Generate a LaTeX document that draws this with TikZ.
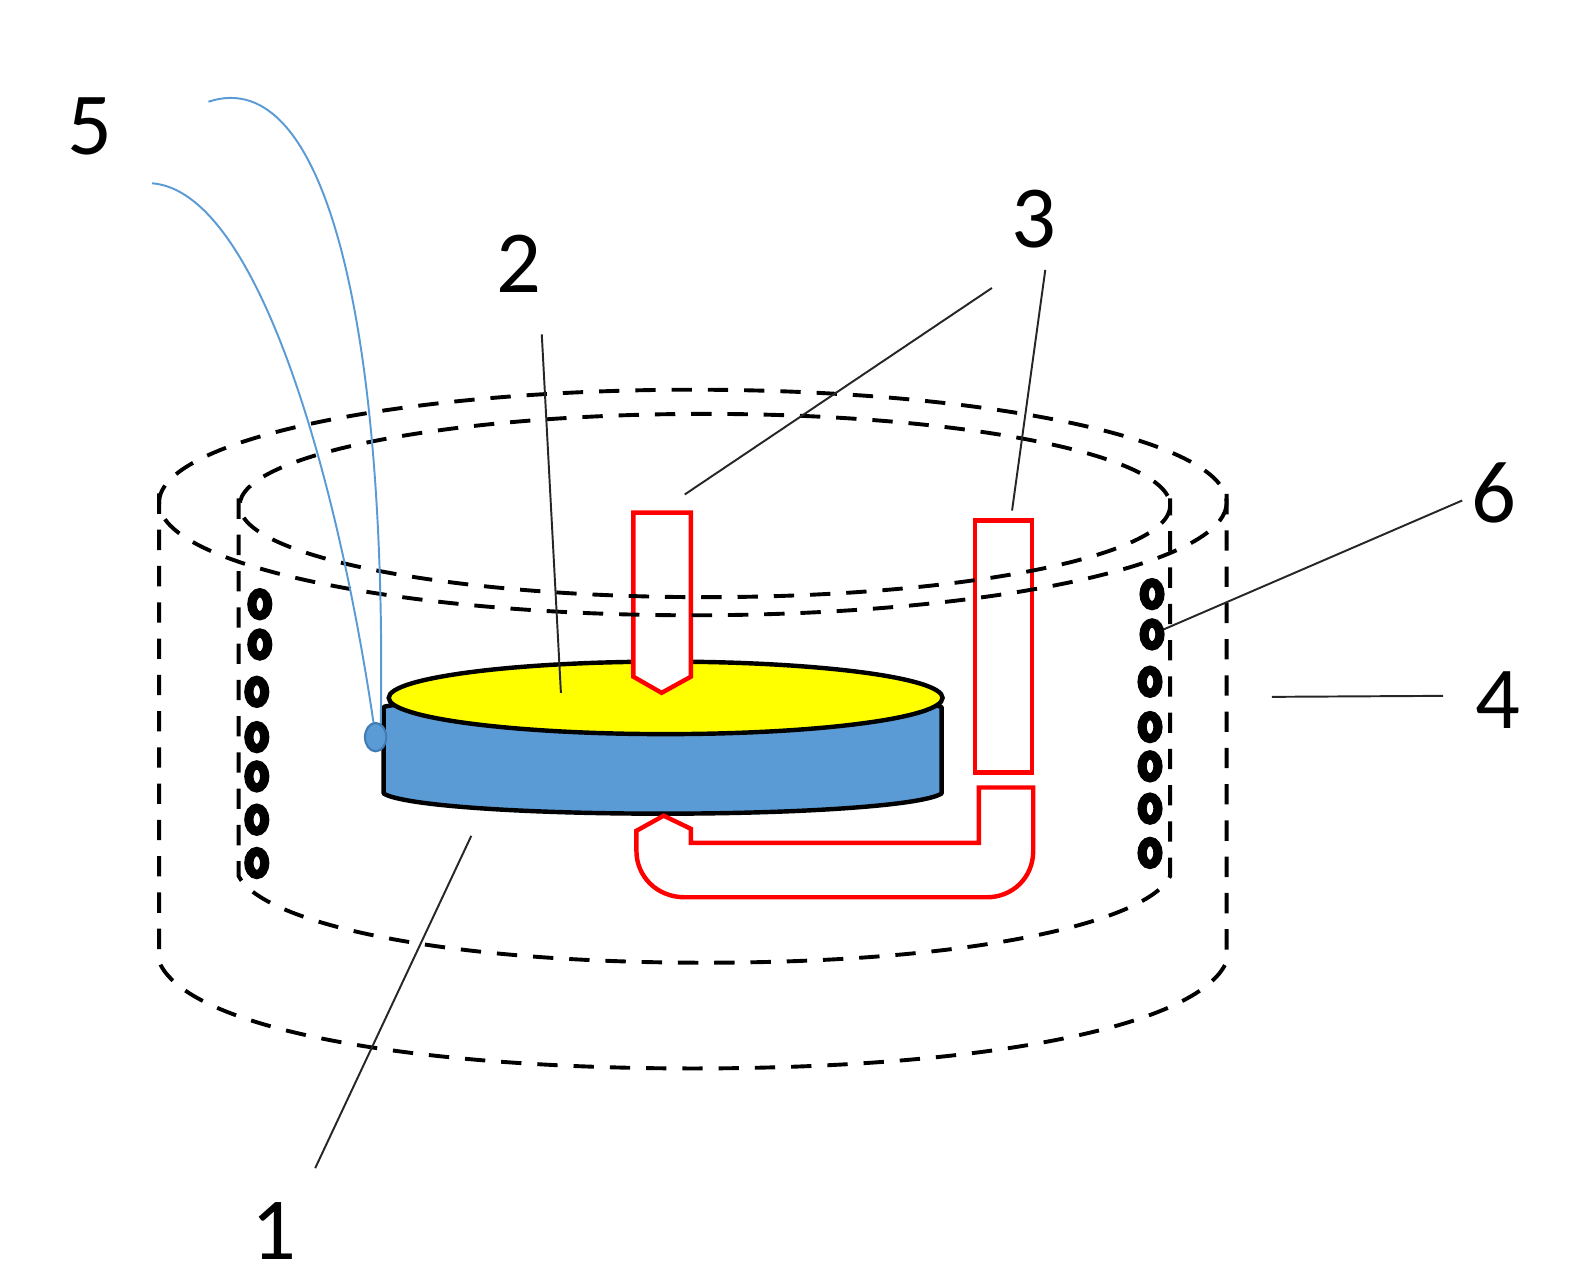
\documentclass[tikz,border=0pt]{standalone}
\usepackage{fontspec}
\setmainfont{Carlito}
\usetikzlibrary{shapes.geometric}
\definecolor{bodyblue}{RGB}{91,155,213}
\definecolor{ballblue}{RGB}{65,125,180}
\definecolor{hot}{RGB}{255,0,0}
\definecolor{discyellow}{RGB}{255,255,0}
\tikzset{
  dashline/.style={black,line width=2.2pt,dash pattern=on 11.5pt off 9pt},
  redpart/.style={draw=hot,line width=2.5pt,line join=miter},
  wire/.style={draw=bodyblue,line width=1.1pt},
  leader/.style={draw=black!85,line width=1.1pt},
  digit/.style={font=\fontsize{50}{52}\selectfont,inner sep=0pt,text=black},
  coil/.style={draw=black,line width=5.2pt,fill=white,ellipse},
}
\begin{document}
\begin{tikzpicture}[x=0.02cm,y=-0.02cm]
\useasboundingbox (0,0) rectangle (1568,1270);
% disc
\path[fill=bodyblue,draw=black,line width=2.5pt,line join=round] (381,702) -- (381,788) .. controls (400,800) and (520,808) .. (658,808) .. controls (796,808) and (916,800) .. (935,788) -- (935,702) .. controls (900,690) and (420,690) .. (381,702) -- cycle;
\draw[fill=discyellow,line width=2.5pt] (661,693) ellipse [x radius=275,y radius=36];
% probes
\draw[redpart,fill=white] (629,509) -- (686,509) -- (686,672) -- (657,688) -- (629,672) -- cycle;
\draw[redpart,fill=white] (968,517) rectangle (1025,767);
\draw[redpart] (659,810) -- (686,823) -- (686,837) -- (972,837) -- (972,782) -- (1026,782) -- (1026,845) .. controls (1026,872) and (1005,891) .. (980,891) -- (680,891) .. controls (652,891) and (632,870) .. (632,845) -- (632,825) -- cycle;
% outer cylinder
\draw[dashline] (688,499) ellipse [x radius=530,y radius=112];
\draw[dashline] (158,490) -- (158,955) .. controls (185,1020) and (400,1061) .. (688,1061) .. controls (976,1061) and (1190,1020) .. (1218,955) -- (1218,490);
% inner cylinder
\draw[dashline] (700,502) ellipse [x radius=462,y radius=91];
\draw[dashline] (237,495) -- (237,870) .. controls (260,915) and (430,956) .. (700,956) .. controls (970,956) and (1140,915) .. (1162,870) -- (1162,495);
% wires
\draw[wire] (207,101) .. controls (325,62) and (385,330) .. (378,725);
\draw[wire] (151,182) .. controls (255,190) and (335,470) .. (372,725);
\node[ellipse,fill=bodyblue,draw=ballblue,line width=1.2pt,minimum width=12pt,minimum height=16pt,inner sep=0pt] (ball) at (373,732) {};
% coils
\foreach \n/\x/\y in {a/258/600,b/258/640,c/255/687,d/255/732,e/255/771,f/255/814,g/255/857,
  h/1144/590,i/1144/630,j/1142/677,k/1142/722,l/1142/761,m/1142/803,n/1142/847}{
  \node[coil,minimum width=9pt,minimum height=13pt,inner sep=0pt] (coil\n) at (\x,\y) {};
}
% labels
\node[digit] (lab5) at (89,126) {5};
\node[digit] (lab2) at (515,262) {2};
\node[digit] (lab3) at (1027,218) {3};
\node[digit] (lab6) at (1483,490) {6};
\node[digit] (lab4) at (1487,695) {4};
\node[digit] (lab1) at (272,1222) {1};
% leader ends
\coordinate (l2a) at (538,332); \coordinate (l2b) at (557,688);
\coordinate (l3a) at (985,286); \coordinate (l3b) at (680,491);
\coordinate (l3c) at (1038,268); \coordinate (l3d) at (1005,507);
\coordinate (l6a) at (1452,497);
\coordinate (l4a) at (1433,691); \coordinate (l4b) at (1263,692);
\coordinate (l1a) at (313,1160); \coordinate (l1b) at (468,830);
\draw[leader] (l2a) -- (l2b);
\draw[leader] (l3a) -- (l3b);
\draw[leader] (l3c) -- (l3d);
\draw[leader] (l6a) -- (coili);
\draw[leader] (l4a) -- (l4b);
\draw[leader] (l1a) -- (l1b);
\end{tikzpicture}
\end{document}
